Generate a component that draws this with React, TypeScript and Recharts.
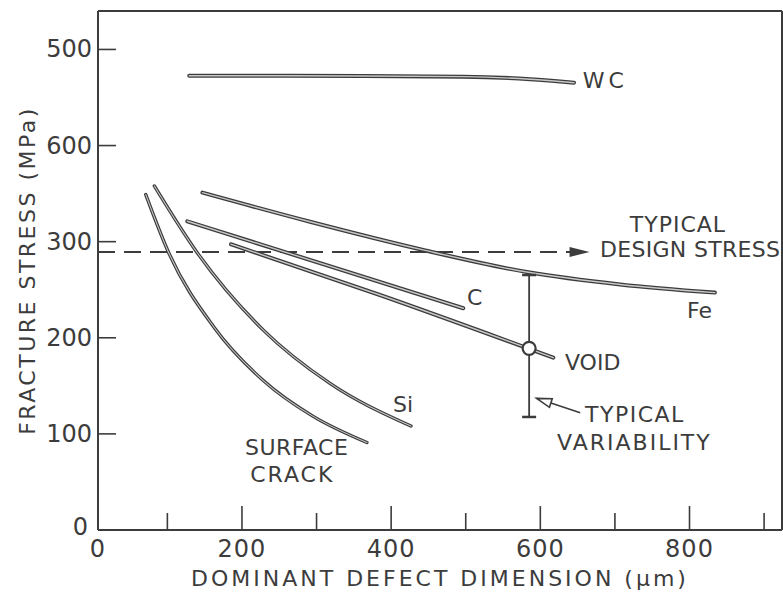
import React from 'react';
import { ComposedChart, Line, XAxis, YAxis, Scatter, ReferenceDot } from 'recharts';

// axis ticks (the scanned figure labels the 400 tick "600")
const X_TICKS = [7, 100, 200, 300, 400, 500, 600, 700, 800, 900];
const X_TICK_LABELS: Record<number, string> = { 7: '0', 200: '200', 400: '400', 600: '600', 800: '800' };
const Y_TICKS = [0, 100, 200, 300, 400, 500];
const Y_TICK_LABELS = ['0', '100', '200', '300', '600', '500'];
const RIGHT_TICKS = [100, 200, 400, 500];
const TOP_TICKS = [100, 200, 300, 400, 500, 600, 700, 800, 900];

// curves: defect size (um) vs fracture stress (MPa)
const surfaceCrack = [
  { x: 71, y: 349 }, { x: 101.5, y: 289 }, { x: 162, y: 211.5 },
  { x: 229, y: 155.2 }, { x: 295.5, y: 118.2 }, { x: 367.5, y: 91 },
];
const silicon = [
  { x: 82.5, y: 358 }, { x: 139.3, y: 289.3 }, { x: 228.6, y: 208 },
  { x: 318, y: 152.6 }, { x: 426.6, y: 108.2 },
];
const iron = [
  { x: 147, y: 351 }, { x: 290, y: 321 }, { x: 443, y: 291.4 }, { x: 582, y: 268.4 },
  { x: 707, y: 255.5 }, { x: 834, y: 247 },
];
const carbon = [{ x: 126.7, y: 321.2 }, { x: 496.7, y: 230.7 }];
const voids = [{ x: 185.3, y: 297.3 }, { x: 385, y: 244.5 }, { x: 617.4, y: 179.3 }];
const tungstenCarbide = [
  { x: 129.3, y: 472.7 }, { x: 362.3, y: 472.4 }, { x: 496.4, y: 471.7 },
  { x: 586.2, y: 469 }, { x: 645.2, y: 465.4 },
];
const designStress = [{ x: 7, y: 289.3 }, { x: 666, y: 289.3 }];
const variability = [{ x: 585, y: 265.3 }, { x: 585, y: 117.6 }];
const variabilityPoint = [{ x: 585, y: 189 }];
const variabilityPointer = [{ x: 653.5, y: 122 }, { x: 595, y: 137 }];

const ANNOTATIONS = [
  { text: 'WC', x: 657, y: 460, spacing: 4 },
  { text: 'TYPICAL', x: 720, y: 310, spacing: 1 },
  { text: 'DESIGN STRESS', x: 680, y: 284, spacing: 0.3 },
  { text: 'C', x: 501.7, y: 234, spacing: 0 },
  { text: 'Fe', x: 796.7, y: 220.6, spacing: 0 },
  { text: 'VOID', x: 633, y: 166.5, spacing: 0 },
  { text: 'TYPICAL', x: 660, y: 112.4, spacing: 1.5 },
  { text: 'VARIABILITY', x: 622.4, y: 83.2, spacing: 2 },
  { text: 'Si', x: 402.5, y: 123, spacing: 0 },
  { text: 'SURFACE', x: 204, y: 78, spacing: 0.5 },
  { text: 'CRACK', x: 211, y: 50, spacing: 2 },
];

const INK = '#3c3c3c';
const FONT = '"DejaVu Sans", sans-serif';

const BottomTick = (props: any) => {
  const { x, y, payload } = props;
  const v = payload.value;
  const len = v % 200 === 0 ? 24 : 17;
  const label = X_TICK_LABELS[v];
  return (
    <g>
      {v !== 7 && <line x1={x} x2={x} y1={y} y2={y - len} stroke={INK} strokeWidth={1.6} />}
      {label && (
        <text x={x} y={y + 27} textAnchor="middle" fontFamily={FONT} fontSize={24} fill={INK} letterSpacing={1}>
          {label}
        </text>
      )}
    </g>
  );
};

const TopTick = (props: any) => {
  const { x, y, payload } = props;
  const len = payload.value % 200 === 0 ? 24 : 18;
  return <line x1={x} x2={x} y1={y} y2={y + len} stroke={INK} strokeWidth={1.6} />;
};

const LeftTick = (props: any) => {
  const { x, y, payload, index } = props;
  const v = payload.value;
  return (
    <g>
      {v !== 0 && <line x1={x} x2={x + 18} y1={y} y2={y} stroke={INK} strokeWidth={1.6} />}
      <text
        x={v === 0 ? x - 10 : x - 6}
        y={v === 0 ? y + 5 : y + 8}
        textAnchor="end"
        fontFamily={FONT}
        fontSize={24}
        fill={INK}
      >
        {Y_TICK_LABELS[index]}
      </text>
    </g>
  );
};

const RightTick = (props: any) => {
  const { x, y } = props;
  return <line x1={x} x2={x - 18} y1={y} y2={y} stroke={INK} strokeWidth={1.6} />;
};

const Annotation = (props: any) => {
  const { viewBox, text, spacing } = props;
  return (
    <text x={viewBox.x} y={viewBox.y} fontFamily={FONT} fontSize={22} fill={INK} letterSpacing={spacing}>
      {text}
    </text>
  );
};

const Cap = (props: any) => (
  <line key={props.index} x1={props.cx - 7} x2={props.cx + 7} y1={props.cy} y2={props.cy} stroke={INK} strokeWidth={2.5} />
);

const FilledArrow = (props: any) => {
  const { cx, cy, index } = props;
  if (index !== designStress.length - 1) return <g key={index} />;
  return <path key={index} d={`M${cx},${cy} L${cx - 20},${cy - 5} L${cx - 20},${cy + 5} Z`} fill={INK} />;
};

const OpenArrow = (props: any) => {
  const { cx, cy, index, points } = props;
  if (index !== variabilityPointer.length - 1) return <g key={index} />;
  let ang = Math.atan2(-14.4, -43.3);
  if (points && points.length > 1) ang = Math.atan2(cy - points[0].y, cx - points[0].x);
  const back = 15;
  const half = 4.5;
  const bx = cx - Math.cos(ang) * back;
  const by = cy - Math.sin(ang) * back;
  const nx = -Math.sin(ang) * half;
  const ny = Math.cos(ang) * half;
  return (
    <path
      key={index}
      d={`M${cx},${cy} L${bx + nx},${by + ny} L${bx - nx},${by - ny} Z`}
      fill="#fff"
      stroke={INK}
      strokeWidth={1.6}
    />
  );
};

const CURVES = [
  { key: 'surface', data: surfaceCrack, outer: 3.4, inner: 1.1 },
  { key: 'si', data: silicon, outer: 3.4, inner: 1.1 },
  { key: 'fe', data: iron, outer: 4, inner: 1.4 },
  { key: 'c', data: carbon, outer: 4, inner: 1.4 },
  { key: 'void', data: voids, outer: 4, inner: 1.4 },
  { key: 'wc', data: tungstenCarbide, outer: 4, inner: 1.4 },
];

export default function App() {
  return (
    <div style={{ position: 'absolute', left: 0, top: 0, background: '#fff' }}>
      <ComposedChart width={783} height={596} margin={{ top: 10, right: 0, bottom: 0, left: 0 }}>
        <XAxis
          xAxisId="bottom"
          type="number"
          dataKey="x"
          domain={[7, 924]}
          ticks={X_TICKS}
          interval={0}
          height={66}
          tickSize={0}
          tickMargin={0}
          tickLine={false}
          tick={<BottomTick />}
          axisLine={{ stroke: INK, strokeWidth: 2 }}
          label={{
            content: (p: any) => (
              <text
                x={p.viewBox.x + p.viewBox.width / 2}
                y={586}
                textAnchor="middle"
                fontFamily={FONT}
                fontSize={22}
                fill={INK}
                letterSpacing={3}
              >
                DOMINANT DEFECT DIMENSION (μm)
              </text>
            ),
          }}
        />
        <XAxis
          xAxisId="top"
          orientation="top"
          type="number"
          dataKey="x"
          domain={[7, 924]}
          ticks={TOP_TICKS}
          interval={0}
          height={1}
          tickSize={0}
          tickMargin={0}
          tickLine={false}
          tick={<TopTick />}
          axisLine={{ stroke: INK, strokeWidth: 2 }}
        />
        <YAxis
          yAxisId="left"
          type="number"
          domain={[0, 540]}
          ticks={Y_TICKS}
          interval={0}
          width={98}
          tickSize={0}
          tickMargin={0}
          tickLine={false}
          tick={<LeftTick />}
          axisLine={{ stroke: INK, strokeWidth: 2 }}
          label={{
            content: (p: any) => {
              const cy = p.viewBox.y + p.viewBox.height / 2;
              return (
                <text
                  x={35}
                  y={cy}
                  transform={`rotate(-90 35 ${cy})`}
                  textAnchor="middle"
                  fontFamily={FONT}
                  fontSize={22}
                  fill={INK}
                  letterSpacing={2.5}
                >
                  FRACTURE STRESS (MPa)
                </text>
              );
            },
          }}
        />
        <YAxis
          yAxisId="right"
          orientation="right"
          type="number"
          domain={[0, 540]}
          ticks={RIGHT_TICKS}
          interval={0}
          width={1}
          tickSize={0}
          tickMargin={0}
          tickLine={false}
          tick={<RightTick />}
          axisLine={{ stroke: INK, strokeWidth: 2 }}
        />

        <Line
          xAxisId="bottom"
          yAxisId="left"
          data={designStress}
          dataKey="y"
          type="linear"
          stroke={INK}
          strokeWidth={2}
          strokeDasharray="17 9"
          dot={FilledArrow}
          activeDot={false}
          isAnimationActive={false}
        />

        {CURVES.map((c) => (
          <Line
            key={c.key + '-outer'}
            xAxisId="bottom"
            yAxisId="left"
            data={c.data}
            dataKey="y"
            type="monotone"
            stroke={INK}
            strokeWidth={c.outer}
            strokeLinecap="round"
            dot={false}
            activeDot={false}
            isAnimationActive={false}
          />
        ))}
        {CURVES.map((c) => (
          <Line
            key={c.key + '-inner'}
            xAxisId="bottom"
            yAxisId="left"
            data={c.data}
            dataKey="y"
            type="monotone"
            stroke="#c8c8c8"
            strokeWidth={c.inner}
            strokeLinecap="round"
            dot={false}
            activeDot={false}
            isAnimationActive={false}
          />
        ))}

        <Line
          xAxisId="bottom"
          yAxisId="left"
          data={variability}
          dataKey="y"
          type="linear"
          stroke={INK}
          strokeWidth={1.8}
          dot={Cap}
          activeDot={false}
          isAnimationActive={false}
        />
        <Line
          xAxisId="bottom"
          yAxisId="left"
          data={variabilityPointer}
          dataKey="y"
          type="linear"
          stroke={INK}
          strokeWidth={1.6}
          dot={OpenArrow}
          activeDot={false}
          isAnimationActive={false}
        />
        <Scatter
          xAxisId="bottom"
          yAxisId="left"
          data={variabilityPoint}
          dataKey="y"
          shape={(p: any) => <circle cx={p.cx} cy={p.cy} r={6.5} fill="#fff" stroke={INK} strokeWidth={2.2} />}
          isAnimationActive={false}
        />

        {ANNOTATIONS.map((a, i) => (
          <ReferenceDot
            key={i}
            xAxisId="bottom"
            yAxisId="left"
            x={a.x}
            y={a.y}
            r={0}
            stroke="none"
            fill="none"
            label={<Annotation text={a.text} spacing={a.spacing} />}
          />
        ))}
      </ComposedChart>
    </div>
  );
}
